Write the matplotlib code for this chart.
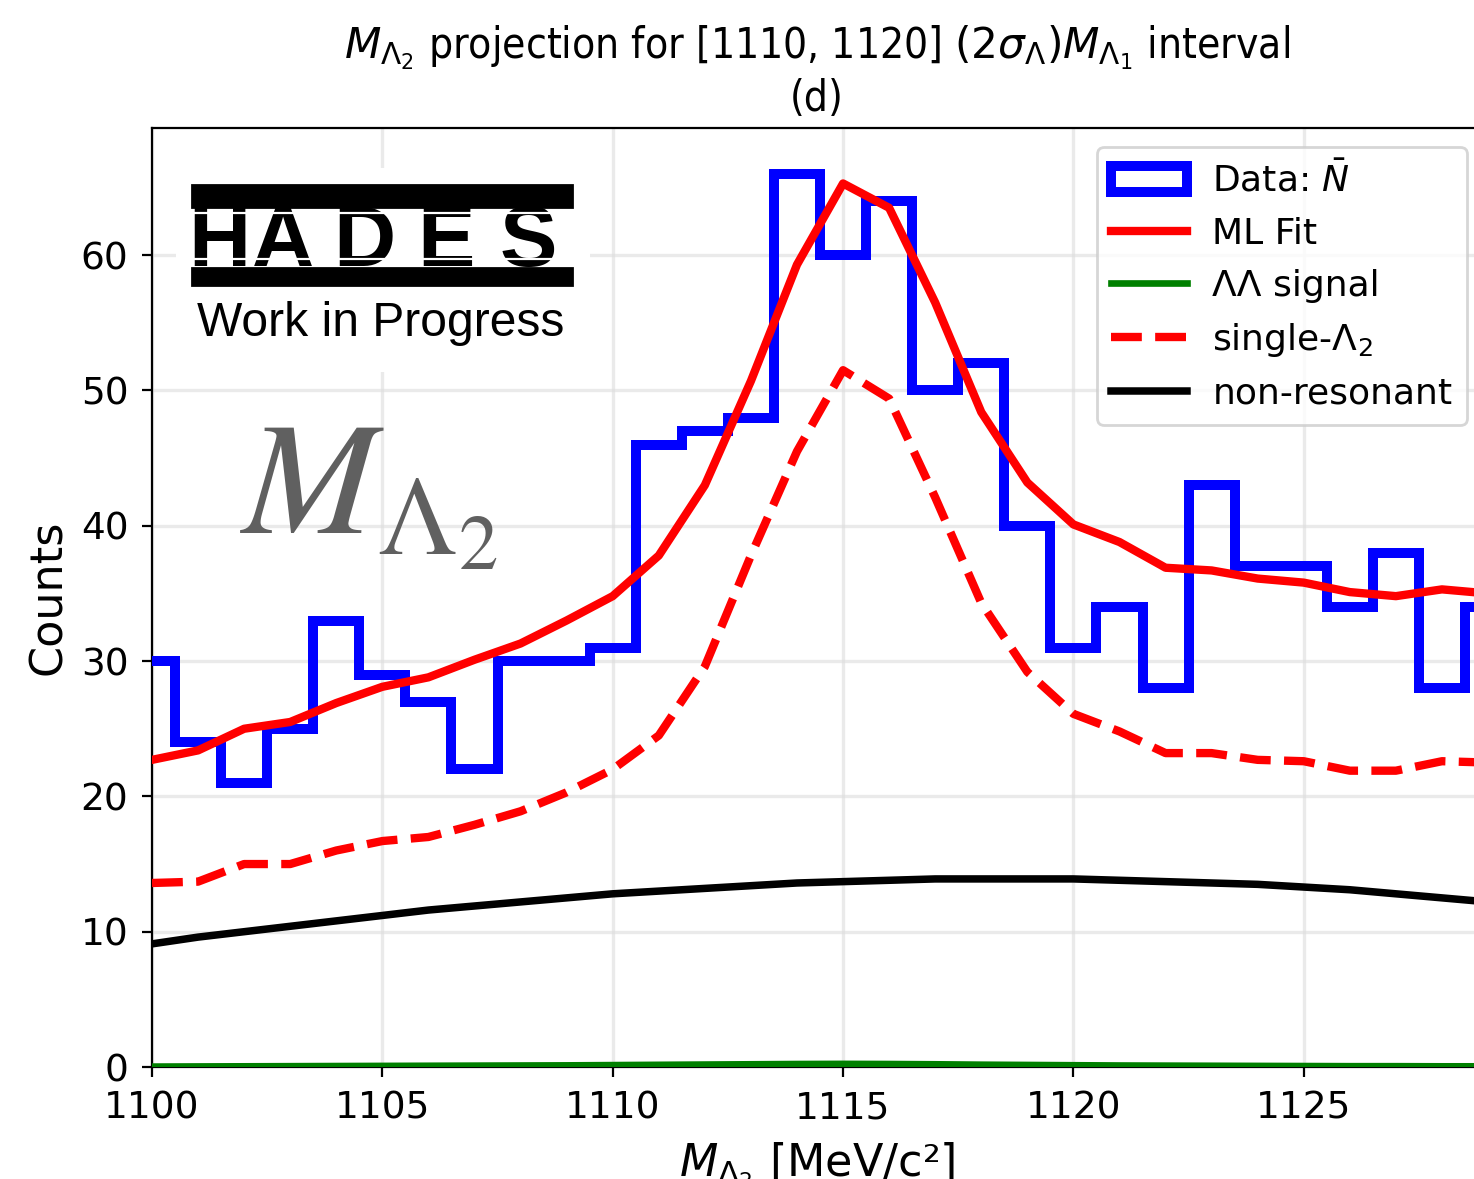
import numpy as np
import matplotlib
matplotlib.use('Agg')
import matplotlib.pyplot as plt
from matplotlib.patches import Rectangle

# bin centres of the M(Lambda_2) histogram [MeV/c^2]
mass = [1100, 1101, 1102, 1103, 1104, 1105, 1106, 1107, 1108, 1109,
        1110, 1111, 1112, 1113, 1114, 1115, 1116, 1117, 1118, 1119,
        1120, 1121, 1122, 1123, 1124, 1125, 1126, 1127, 1128, 1129]

data_counts = [30, 24, 21, 25, 33, 29, 27, 22, 30, 30,
               31, 46, 47, 48, 66, 60, 64, 50, 52, 40,
               31, 34, 28, 43, 37, 37, 34, 38, 28, 34]

ml_fit = [22.7, 23.4, 25.0, 25.5, 26.9, 28.1, 28.8, 30.1, 31.3, 33.0,
          34.8, 37.8, 43.0, 50.7, 59.3, 65.3, 63.5, 56.5, 48.4, 43.2,
          40.1, 38.8, 36.9, 36.7, 36.1, 35.8, 35.1, 34.8, 35.3, 35.0]

ll_signal = [0.03, 0.04, 0.05, 0.06, 0.07, 0.08, 0.09, 0.10, 0.11, 0.12,
             0.14, 0.16, 0.18, 0.20, 0.22, 0.23, 0.22, 0.20, 0.17, 0.15,
             0.13, 0.11, 0.10, 0.09, 0.08, 0.07, 0.06, 0.06, 0.05, 0.05]

single_l2 = [13.6, 13.7, 15.0, 15.0, 16.0, 16.7, 17.0, 17.9, 18.9, 20.3,
             22.0, 24.5, 29.6, 37.8, 45.5, 51.5, 49.4, 42.1, 34.3, 29.2,
             26.1, 24.8, 23.2, 23.2, 22.7, 22.6, 21.9, 21.9, 22.6, 22.5]

non_res = [9.1, 9.6, 10.0, 10.4, 10.8, 11.2, 11.6, 11.9, 12.2, 12.5,
           12.8, 13.0, 13.2, 13.4, 13.6, 13.7, 13.8, 13.9, 13.9, 13.9,
           13.9, 13.8, 13.7, 13.6, 13.5, 13.3, 13.1, 12.8, 12.5, 12.2]

W, H = 1474, 1179
dpi = 200
fig = plt.figure(figsize=(W / dpi, H / dpi), dpi=dpi)

# axes in pixel units of the canvas
ax_l, ax_r, ax_t, ax_b = 152, 1482, 128, 1067
ax = fig.add_axes([ax_l / W, 1 - ax_b / H, (ax_r - ax_l) / W, (ax_b - ax_t) / H])

edges = np.arange(mass[0] - 0.5, mass[-1] + 1.0, 1.0)
ax.hist(mass, bins=edges, weights=data_counts, histtype='step',
        color='blue', lw=3.6, label=r'Data: $\bar{N}$', zorder=3)
ax.plot(mass, ml_fit, color='red', lw=3.0, label='ML Fit', zorder=4)
ax.plot(mass, ll_signal, color='green', lw=2.4, label='ΛΛ signal', zorder=4)
ax.plot(mass, single_l2, color='red', lw=3.0, ls='--', label=r'single-$\Lambda_2$', zorder=4)
ax.plot(mass, non_res, color='black', lw=2.7, label='non-resonant', zorder=4)

ax.set_xlim(1100, 1100 + (ax_r - ax_l) / 46.07)
ax.set_ylim(0, 69.4)
ax.set_xticks([1100, 1105, 1110, 1115, 1120, 1125])
ax.set_yticks([0, 10, 20, 30, 40, 50, 60])
ax.tick_params(labelsize=13.5, pad=5)
ax.grid(True, color='#dddddd', alpha=0.6, lw=1.2)
ax.set_axisbelow(True)
ax.spines['right'].set_visible(False)

ax.set_xlabel(r'$M_{\Lambda_2}$ [MeV/c²]', fontsize=16, labelpad=5)
ax.set_ylabel('Counts', fontsize=16, labelpad=4)
ax.set_title(r'$M_{\Lambda_2}$ projection for [1110, 1120] $(2\sigma_{\Lambda}) M_{\Lambda_1}$ interval'
             '\n(d)', fontsize=15.2, fontstretch='condensed', pad=6)

leg = ax.legend(loc='upper right', bbox_to_anchor=(1467 / W, 1 - 147 / H),
                bbox_transform=fig.transFigure, borderaxespad=0,
                fontsize=13, handlelength=2.1, handletextpad=0.7,
                labelspacing=0.5)
leg.get_frame().set_edgecolor('#cccccc')

# big axis symbol drawn in the plot area
fig.text(240 / W, 1 - 534 / H, r'$M_{\Lambda_2}$', fontsize=58, color='#606060',
         ha='left', va='baseline', math_fontfamily='stix')

# experiment logo with "Work in Progress" tag
lx0, lx1, ly0, ly1 = 176, 590, 168, 372
lax = fig.add_axes([lx0 / W, 1 - ly1 / H, (lx1 - lx0) / W, (ly1 - ly0) / H])
lax.set_xlim(lx0, lx1)
lax.set_ylim(ly1, ly0)
lax.axis('off')
lax.add_patch(Rectangle((lx0, ly0), lx1 - lx0, ly1 - ly0, color='white', zorder=0))
lax.add_patch(Rectangle((192, 185), 380, 22, color='black', zorder=1))
lax.add_patch(Rectangle((192, 268), 380, 17, color='black', zorder=1))
for ch, cx in zip('HADES', [219, 283, 364, 446, 528]):
    lax.text(cx, 266, ch, fontsize=31, fontweight='heavy', family='Liberation Sans',
             ha='center', va='baseline', color='black', zorder=2)
for sy in [213, 259]:
    lax.plot([192, 572], [sy, sy], color='white', lw=0.8, zorder=3)
lax.text(381, 336, 'Work in Progress', fontsize=17.3, family='Liberation Sans',
         ha='center', va='baseline', color='black', zorder=2)

fig.savefig('out.png', dpi=dpi)
